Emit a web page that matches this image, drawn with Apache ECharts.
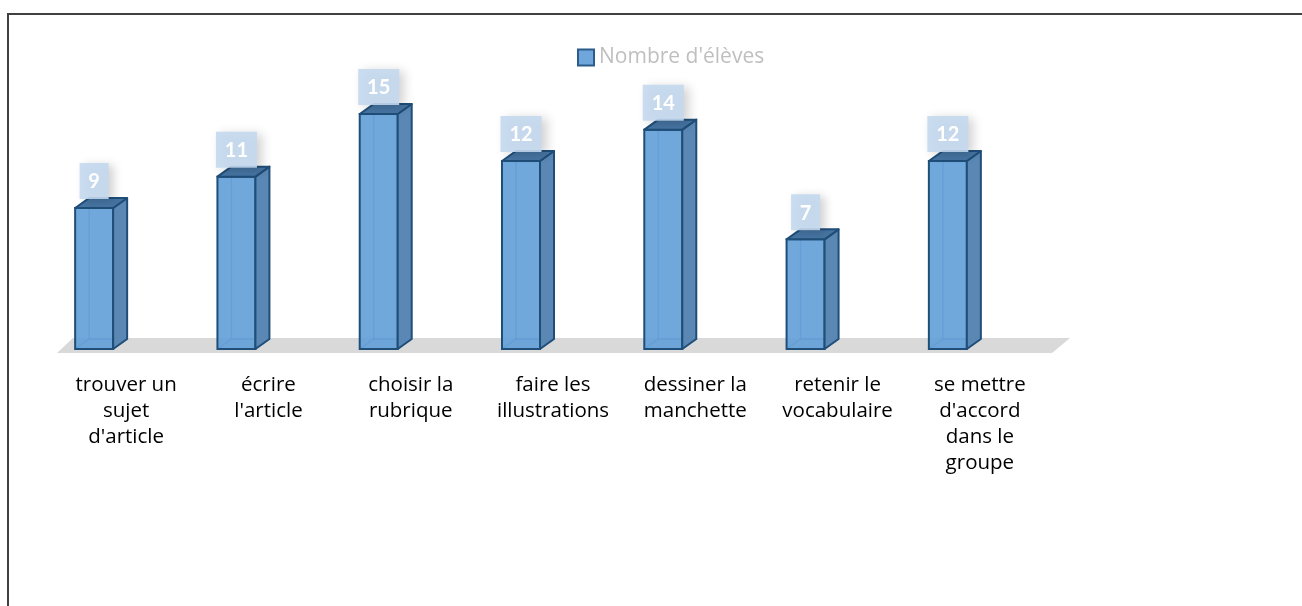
<!DOCTYPE html>
<html>
<head>
<meta charset="utf-8">
<script src="https://cdn.jsdelivr.net/npm/echarts@6/dist/echarts.min.js"></script>
<style>html,body{margin:0;padding:0;background:#fff;}#c{width:1302px;height:606px;}</style>
</head>
<body>
<div id="c"></div>
<script>
const seriesName = "Nombre d'élèves";
const categories = [
  "trouver un\nsujet\nd'article",
  "écrire\nl'article",
  "choisir la\nrubrique",
  "faire les\nillustrations",
  "dessiner la\nmanchette",
  "retenir le\nvocabulaire",
  "se mettre\nd'accord\ndans le\ngroupe"
];
const values = [9, 11, 15, 12, 14, 7, 12];

const chart = echarts.init(document.getElementById('c'), null, {renderer: 'canvas'});

function renderItem(params, api) {
  const idx = api.value(0), v = api.value(1);
  const top = api.coord([idx, v]);
  const base = api.coord([idx, 0]);
  const cx = top[0] - 32;
  const w = 38, dx = 14, dy = 10;
  const x0 = cx - w / 2, x1 = cx + w / 2, yT = top[1], yB = base[1];
  const edge = '#1f4e79';
  const label = String(v);
  const bw = label.length > 1 ? 41 : 29, bh = 36;
  return {
    type: 'group',
    children: [
      { type: 'polyline', shape: { points: [[x0 + dx, yT - dy], [x0 + dx, yB - dy], [x1 + dx, yB - dy]] },
        style: { stroke: 'rgba(40,90,150,0.55)', lineWidth: 1.5, fill: null } },
      { type: 'line', shape: { x1: x0 + dx, y1: yB - dy, x2: x0, y2: yB },
        style: { stroke: 'rgba(40,90,150,0.55)', lineWidth: 1.5 } },
      { type: 'polygon', shape: { points: [[x0, yT], [x1, yT], [x1, yB], [x0, yB]] },
        style: { fill: 'rgba(96,158,216,0.9)', stroke: edge, lineWidth: 2 } },
      { type: 'polygon', shape: { points: [[x1, yT], [x1 + dx, yT - dy], [x1 + dx, yB - dy], [x1, yB]] },
        style: { fill: '#5a87b3', stroke: edge, lineWidth: 2, lineJoin: 'round' } },
      { type: 'polygon', shape: { points: [[x0, yT], [x0 + dx, yT - dy], [x1 + dx, yT - dy], [x1, yT]] },
        style: { fill: '#4674a2', stroke: edge, lineWidth: 2, lineJoin: 'round' } },
      { type: 'rect', shape: { x: cx - bw / 2, y: yT - 9 - bh, width: bw, height: bh },
        style: { fill: 'rgba(196,216,238,0.9)', shadowBlur: 10, shadowColor: 'rgba(0,0,0,0.2)', shadowOffsetX: 5, shadowOffsetY: 2 } },
      { type: 'text', x: cx, y: yT - 9 - bh / 2 + 1,
        style: { text: label, fill: '#ffffff', font: 'bold 20px Lato', align: 'center', verticalAlign: 'middle' } }
    ]
  };
}

const option = {
  backgroundColor: '#ffffff',
  animation: false,
  legend: {
    data: [seriesName],
    left: 572, top: 42,
    icon: 'rect', itemWidth: 16, itemHeight: 16, itemGap: 5,
    textStyle: { color: '#bfbfbf', fontSize: 21, fontFamily: 'Open Sans' }
  },
  graphic: [
    { type: 'polyline', z: -10,
      shape: { points: [[8, 620], [8, 14], [1320, 14]] },
      style: { stroke: '#404040', lineWidth: 2, fill: null } },
    { type: 'polygon', z: -10,
      shape: { points: [[57, 353], [1052, 353], [1070, 338], [73, 338]] },
      style: { fill: '#d9d9d9' } }
  ],
  grid: { left: 55, right: 251, top: 98.3, bottom: 257 },
  xAxis: {
    type: 'category', data: categories,
    axisLine: { show: false }, axisTick: { show: false },
    axisLabel: { interval: 0, margin: 23, lineHeight: 26, fontSize: 20.5, color: '#000', fontFamily: 'Open Sans' }
  },
  yAxis: { type: 'value', min: 0, max: 16, show: false, splitLine: { show: false } },
  series: [{
    name: seriesName,
    type: 'custom',
    renderItem: renderItem,
    itemStyle: { color: '#6fa6dc', borderColor: '#2b5c8c', borderWidth: 2 },
    data: values.map((v, i) => [i, v]),
    encode: { x: 0, y: 1 }
  }]
};
chart.setOption(option);
</script>
</body>
</html>
